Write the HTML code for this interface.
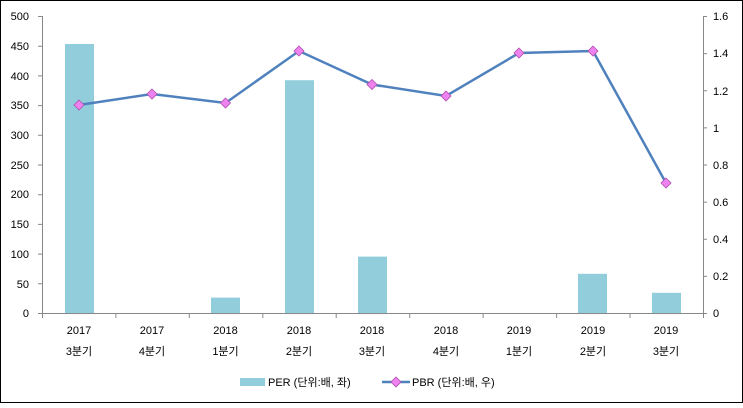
<!DOCTYPE html>
<html><head><meta charset="utf-8"><style>
body{margin:0;background:#fff}
text{font-family:"Liberation Sans","Noto Sans CJK KR",sans-serif;font-size:11px;fill:#000}
</style></head><body>
<svg width="743" height="403" xmlns="http://www.w3.org/2000/svg">
<rect x="0.5" y="0.5" width="742" height="402" fill="#fff" stroke="#000"/>
<g fill="#92CDDC">
<rect x="65" y="44" width="29" height="269"/>
<rect x="211" y="297.6" width="29" height="15.4"/>
<rect x="285" y="80.2" width="29" height="232.8"/>
<rect x="358" y="256.6" width="29" height="56.4"/>
<rect x="578" y="273.8" width="29" height="39.2"/>
<rect x="652" y="292.8" width="29" height="20.2"/>
</g>
<g stroke="#888" stroke-width="1" fill="none">
<path d="M42.5 16V313M703.5 16V313M42 313.5H703"/>
<path d="M38 16.5h4M38 46.2h4M38 75.9h4M38 105.6h4M38 135.3h4M38 165h4M38 194.7h4M38 224.4h4M38 254.1h4M38 283.8h4M38 313.5h4"/>
<path d="M703 16.5h4M703 53.6h4M703 90.8h4M703 127.9h4M703 165h4M703 202.1h4M703 239.3h4M703 276.4h4M703 313.5h4"/>
<path d="M115.9 313v5M189.3 313v5M262.8 313v5M336.2 313v5M409.7 313v5M483.1 313v5M556.6 313v5M630 313v5M703.5 313v5M42.5 313v5"/>
</g>
<g text-anchor="end">
<text x="29" y="20">500</text><text x="29" y="50">450</text><text x="29" y="80">400</text><text x="29" y="109">350</text><text x="29" y="139">300</text><text x="29" y="169">250</text><text x="29" y="198">200</text><text x="29" y="228">150</text><text x="29" y="258">100</text><text x="29" y="288">50</text><text x="29" y="317">0</text>
</g>
<g>
<text x="713" y="20">1.6</text><text x="713" y="57">1.4</text><text x="713" y="95">1.2</text><text x="713" y="132">1</text><text x="713" y="169">0.8</text><text x="713" y="206">0.6</text><text x="713" y="243">0.4</text><text x="713" y="280">0.2</text><text x="713" y="317">0</text>
</g>
<g text-anchor="middle">
<text x="79" y="334">2017</text><text x="79" y="355">3분기</text>
<text x="152" y="334">2017</text><text x="152" y="355">4분기</text>
<text x="225.5" y="334">2018</text><text x="225.5" y="355">1분기</text>
<text x="299" y="334">2018</text><text x="299" y="355">2분기</text>
<text x="372" y="334">2018</text><text x="372" y="355">3분기</text>
<text x="446" y="334">2018</text><text x="446" y="355">4분기</text>
<text x="519" y="334">2019</text><text x="519" y="355">1분기</text>
<text x="593" y="334">2019</text><text x="593" y="355">2분기</text>
<text x="666" y="334">2019</text><text x="666" y="355">3분기</text>
</g>
<polyline fill="none" stroke="#4F81BD" stroke-width="2.5" points="79,105 152,94 225.5,103 299,51 372,84.5 446,96 519,53 593,51 666,183"/>
<g fill="#EE82EE" stroke="#B050B0" stroke-width="0.8">
<path d="M79 100l5 5-5 5-5-5z"/><path d="M152 89l5 5-5 5-5-5z"/><path d="M225.5 98l5 5-5 5-5-5z"/><path d="M299 46l5 5-5 5-5-5z"/><path d="M372 79.5l5 5-5 5-5-5z"/><path d="M446 91l5 5-5 5-5-5z"/><path d="M519 48l5 5-5 5-5-5z"/><path d="M593 46l5 5-5 5-5-5z"/><path d="M666 178l5 5-5 5-5-5z"/>
</g>
<rect x="240" y="378" width="25" height="8" fill="#92CDDC"/>
<text x="268" y="386">PER (단위:배, 좌)</text>
<line x1="382" y1="382" x2="410" y2="382" stroke="#4F81BD" stroke-width="2.5"/>
<path d="M396 377l5 5-5 5-5-5z" fill="#EE82EE" stroke="#B050B0" stroke-width="0.8"/>
<text x="412" y="386">PBR (단위:배, 우)</text>
</svg>
</body></html>
